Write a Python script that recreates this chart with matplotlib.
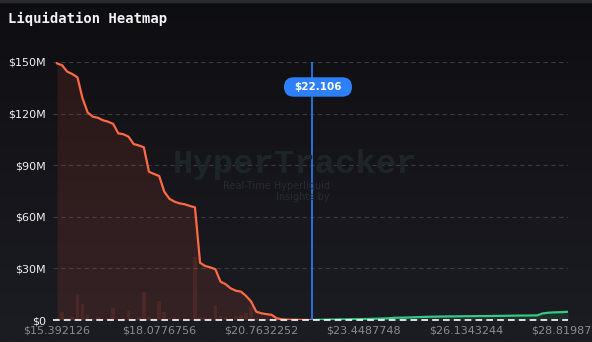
import matplotlib
matplotlib.use("Agg")
import matplotlib.pyplot as plt
import numpy as np
from matplotlib.patches import FancyBboxPatch, Rectangle

# ---------------- data ----------------
price_start = 15.392126
price_step = 0.13427748
tick_labels = ["$15.392126", "$18.0776756", "$20.7632252",
               "$23.4487748", "$26.1343244", "$28.8198744"]
tick_idx = [0, 20, 40, 60, 80, 100]
current_price = 22.106

# cumulative long liquidations (index 0..50), $M
long_cum = [149.2, 148.1, 144.4, 143.0, 141.1, 128.9, 120.7, 118.2, 117.6, 116.1,
            115.3, 114.0, 108.5, 108.0, 106.6, 102.3, 101.5, 100.4, 86.2, 84.9,
            83.7, 74.6, 70.5, 68.8, 67.8, 67.3, 66.3, 65.5, 33.3, 31.4,
            30.6, 29.5, 22.3, 20.8, 18.4, 17.0, 16.5, 14.0, 10.7, 4.8,
            3.9, 3.4, 3.0, 1.0, 0.4, 0.2, 0.15, 0.1, 0.05, 0.02, 0.0]
# per-level long liquidations (index 0..50), $M
long_bars = [1.3, 4.5, 1.0, 2.0, 14.5, 9.3, 2.7, 0.6, 2.0, 0.7,
             1.0, 6.8, 0.7, 1.0, 5.2, 0.5, 1.5, 16.1, 1.9, 1.0,
             11.0, 4.5, 1.3, 1.9, 0.7, 1.1, 0.7, 36.4, 2.0, 1.5,
             1.0, 8.5, 2.3, 1.6, 1.3, 2.3, 2.9, 4.0, 7.3, 1.0,
             0.6, 0.4, 1.2, 0.5, 0.3, 0.2, 0.1, 0.1, 0.05, 0.02, 0.0]
# cumulative short liquidations (index 50..100), $M
short_cum = [0.0, 0.1, 0.15, 0.2, 0.25, 0.3, 0.35, 0.4, 0.45, 0.5,
             0.55, 0.6, 0.7, 0.8, 0.9, 1.0, 1.3, 1.35, 1.4, 1.5,
             1.6, 1.7, 1.8, 1.9, 1.95, 2.0, 2.05, 2.1, 2.1, 2.15,
             2.2, 2.2, 2.25, 2.3, 2.3, 2.35, 2.4, 2.4, 2.45, 2.5,
             2.55, 2.6, 2.6, 2.65, 2.7, 3.8, 4.2, 4.4, 4.5, 4.6, 4.8]

long_x = np.arange(0, len(long_cum))
short_x = np.arange(50, 50 + len(short_cum))
cur_idx = (current_price - price_start) / price_step

# ---------------- figure ----------------
W, H = 592, 342
fig = plt.figure(figsize=(W / 100, H / 100), dpi=100)

# background gradient
bg = fig.add_axes([0, 0, 1, 1], zorder=-10)
top_c = np.array([14, 14, 18]) / 255
bot_c = np.array([28, 28, 35]) / 255
t = np.linspace(0, 1, 256)[:, None]
grad = top_c[None, :] * (1 - t) + bot_c[None, :] * t
bg.imshow(grad[:, None, :].repeat(2, axis=1), aspect="auto", extent=[0, 1, 0, 1])
bg.axis("off")
fig.patches.append(Rectangle((0, 1 - 2 / H), 1, 2 / H, transform=fig.transFigure,
                             color="#2a2a31", zorder=5))

ax = fig.add_axes([53 / W, (H - 320) / H, (568 - 53) / W, (320 - 62) / H])
ax.patch.set_alpha(0)
ax.set_xlim(-0.78, 100)
ax.set_ylim(0, 150)

red = "#ff6a45"
green = "#35c983"
blue = "#2d80fa"

# grid
for v in [30, 60, 90, 120, 150]:
    ax.axhline(v, color="#3b3b42", lw=0.8, ls=(0, (4, 3)), zorder=1)
ax.axhline(0, color="#ffffff", lw=1.2, ls=(0, (4, 2.5)), zorder=6, clip_on=False)

# fills
ax.fill_between(long_x, long_cum, 0, color="#ff5a3c", alpha=0.11, lw=0, zorder=2)
ax.fill_between(short_x, short_cum, 0, color="#35c983", alpha=0.12, lw=0, zorder=2)
ax.bar(long_x, long_bars, width=0.72, color="#ff5a3c", alpha=0.12, zorder=3)

ax.plot(long_x, long_cum, color=red, lw=1.6, zorder=4, solid_joinstyle="round")
ax.plot(short_x, short_cum, color=green, lw=1.6, zorder=4, solid_joinstyle="round")

ax.axvline(cur_idx, color=blue, lw=1.2, zorder=5)

# ticks
ax.set_xticks(tick_idx)
ax.set_xticklabels(tick_labels)
ax.set_yticks([0, 30, 60, 90, 120, 150])
ax.set_yticklabels(["$0", "$30M", "$60M", "$90M", "$120M", "$150M"])
ax.tick_params(axis="x", length=0, pad=4, labelsize=8, labelcolor="#8b8b90")
ax.tick_params(axis="y", length=0, pad=5, labelsize=8, labelcolor="#f2f2f2")
for s in ax.spines.values():
    s.set_visible(False)

# title
fig.text(8 / W, 1 - 19 / H, "Liquidation Heatmap", family="DejaVu Sans Mono",
         weight="bold", fontsize=10, color="#f2f2f2", va="center", ha="left")

# watermark
fig.text(295 / W, (H - 173) / H, "HyperTracker", family="Liberation Mono",
         weight="bold", fontsize=24.5, color="#1d2528", ha="center",
         va="baseline", zorder=0)
fig.text(330 / W, (H - 191.5) / H, "Real-Time Hyperliquid\nInsights by",
         fontsize=7, color="#272c32", ha="right", va="center",
         multialignment="right", linespacing=1.15, zorder=0)

# price pill
cx, cy = 318 / 100, (H - 87) / 100
pw, ph = 0.68, 0.194
pill = FancyBboxPatch((cx - pw / 2, cy - ph / 2), pw, ph,
                      boxstyle="round,pad=0,rounding_size=0.097",
                      transform=fig.dpi_scale_trans, facecolor=blue,
                      edgecolor="none", zorder=10)
fig.patches.append(pill)
fig.text(cx, cy, "$22.106", transform=fig.dpi_scale_trans, color="white",
         weight="bold", fontsize=7.5, ha="center", va="center", zorder=11)

fig.savefig("out.png", dpi=100)
